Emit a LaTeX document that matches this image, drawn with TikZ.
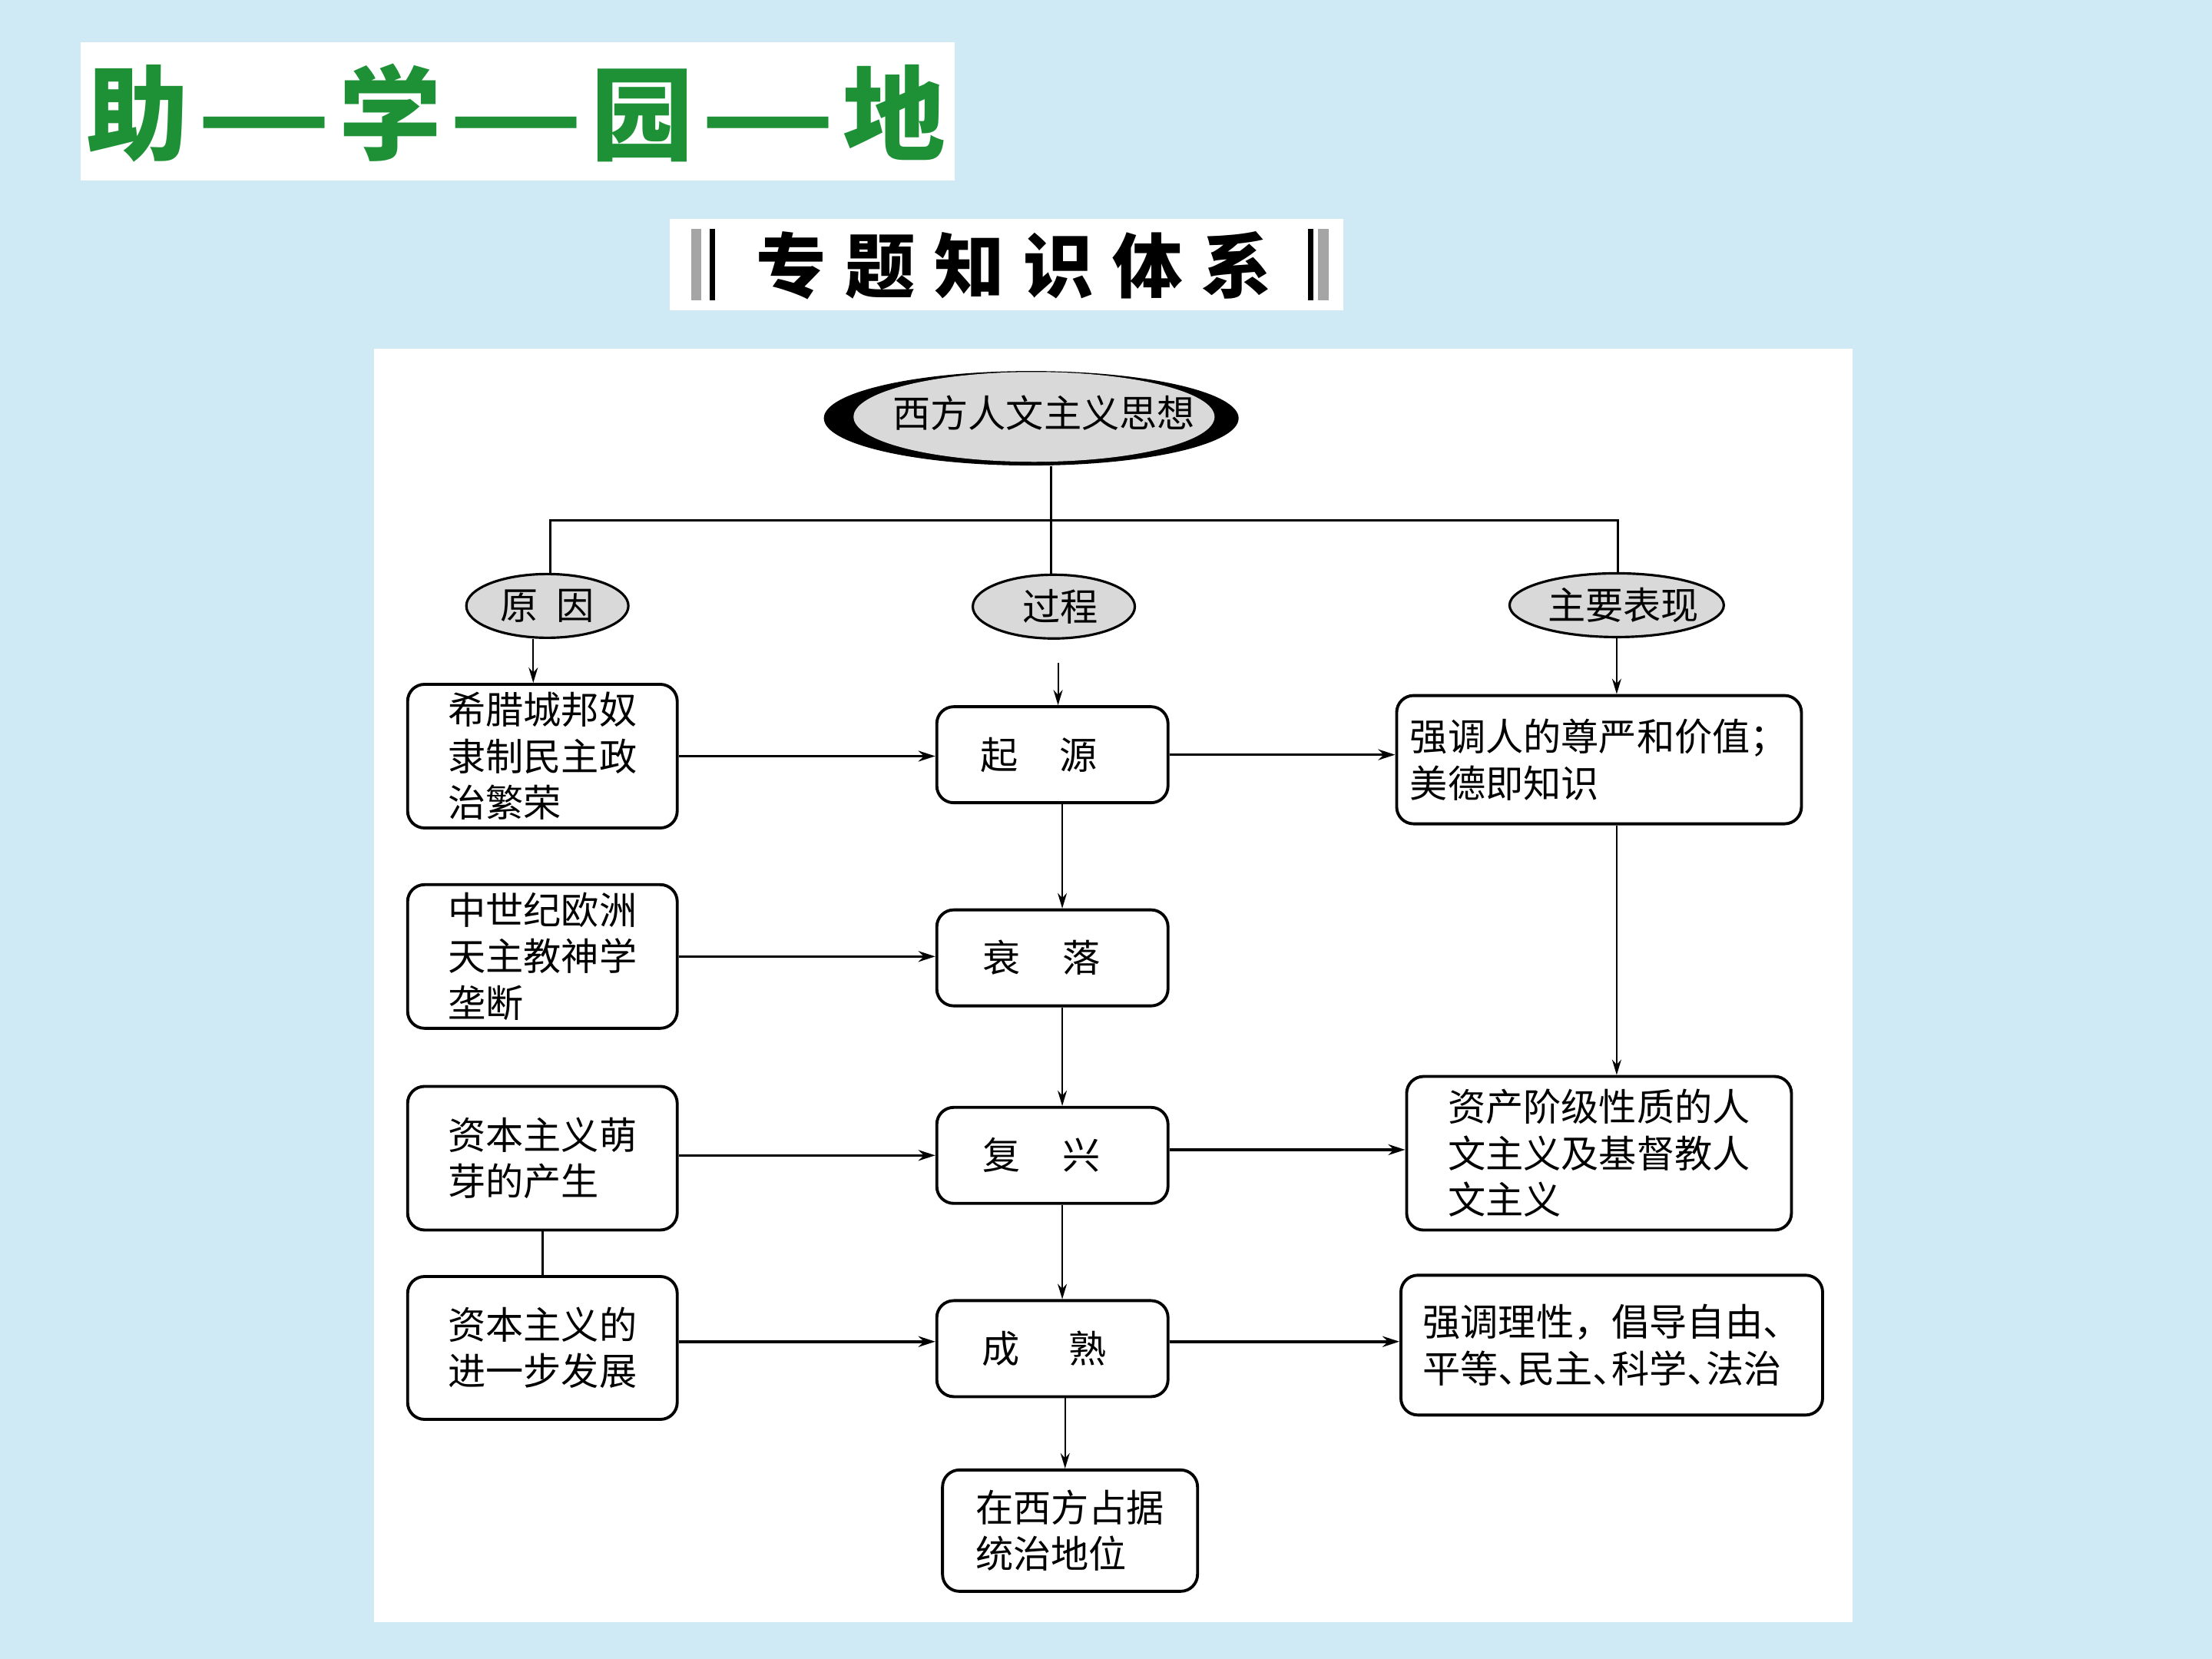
\documentclass[tikz,border=0pt]{standalone}
\usepackage{fontspec}
\newfontfamily\cjk{Noto Sans CJK SC}
\usetikzlibrary{shapes.geometric,arrows.meta,calc}
\definecolor{bgblue}{RGB}{208,234,245}
\definecolor{titlegreen}{RGB}{30,145,55}
\definecolor{ellgray}{RGB}{217,217,217}
\definecolor{bargray}{RGB}{165,165,165}
\begin{document}
\begin{tikzpicture}[x=0.18367mm,y=-0.18367mm,
  every node/.style={font=\cjk\fontsize{14}{17.2}\selectfont, inner sep=0pt},
  box/.style={draw, line width=1.1pt, rounded corners=2.2mm, align=left, fill=white},
  lbox/.style={box, minimum width=35.1mm, minimum height=18.7mm},
  midbox/.style={box, minimum width=30.1mm, minimum height=12.5mm},
  sell/.style={ellipse, draw, line width=0.9pt, fill=ellgray, minimum height=8.3mm},
  arr/.style={-{Stealth[length=2.2mm,width=1.4mm]}, line width=1pt},
  varr/.style={-{Stealth[length=2mm,width=1.2mm]}, line width=0.6pt},
  link/.style={line width=0.8pt}]
\fill[bgblue] (0,0) rectangle (1568,1176);
\useasboundingbox (0,0) rectangle (1568,1176);
\fill[white] (57,30) rectangle (677,128);
\fill[white] (475,155) rectangle (952,220);
\fill[white] (265,247) rectangle (1313,1150);

% title
\node[font=\cjk\bfseries\fontsize{38}{40}\selectfont, text=titlegreen] (title) at (366,80)
  {助\kern2.5pt\scalebox{1.45}[1]{—}\kern2.5pt学\kern2.5pt\scalebox{1.45}[1]{—}\kern2.5pt园\kern2.5pt\scalebox{1.45}[1]{—}\kern2.5pt地};
% subtitle
\fill[bargray] (490,162) rectangle (497,213);
\fill[black] (503,162) rectangle (507,213);
\fill[black] (927,162) rectangle (931,213);
\fill[bargray] (934,162) rectangle (942,213);
\node[font=\cjk\bfseries\fontsize{26}{28}\selectfont] (subtitle) at (719,188)
  {专\kern7pt题\kern7pt知\kern7pt识\kern7pt体\kern7pt系};

% top ellipse
\node[ellipse, fill=black, minimum width=54mm, minimum height=12.3mm] (top) at (731,296.5) {};
\node[ellipse, fill=ellgray, minimum width=47mm, minimum height=11.7mm] (topin) at (733,295.5) {};
\node (toptext) at (740,293) {西方人文主义思想};

% category ellipses
\node[sell, minimum width=21.1mm] (yy) at (388,429.5) {\makebox[0pt]{原\hspace{0.5em}因}};
\node[sell, minimum width=21.1mm] (gc) at (747,430) {\makebox[0pt]{\kern5pt过程}};
\node[sell, minimum width=27.9mm] (zy) at (1146,429) {\makebox[0pt]{\kern5pt主要表现}};

% left boxes
\node[lbox] (xl) at (384.5,536) {希腊城邦奴\\隶制民主政\\治繁荣};
\node[lbox] (zs) at (384.5,678) {中世纪欧洲\\天主教神学\\垄断};
\node[lbox] (my) at (384.5,821) {资本主义萌\\芽的产生};
\node[lbox, minimum height=18.6mm] (jy) at (384.5,955.5) {资本主义的\\进一步发展};

% middle boxes
\node[midbox] (qy) at (746,535) {起\hspace{1.1em}源\kern10pt};
\node[midbox] (sl) at (746,679) {衰\hspace{1.1em}落\kern8pt};
\node[midbox] (fx) at (746,819) {复\hspace{1.1em}兴\kern8pt};
\node[midbox] (cs) at (746,956) {成\hspace{1.3em}熟\kern6pt};
\node[box, minimum width=33.2mm, minimum height=15.8mm] (zx) at (758.5,1085) {在西方占据\\统治地位};

% right boxes
\node[box, minimum width=52.7mm, minimum height=16.7mm] (qd) at (1133.5,538.5) {强调人的尊严和价值；\\美德即知识};
\node[box, minimum width=50.1mm, minimum height=20mm] (zc) at (1133.5,817.5) {资产阶级性质的人\\文主义及基督教人\\文主义};
\node[box, minimum width=54.9mm, minimum height=18.2mm] (lx) at (1142.5,953.5) {强调理性，倡导自由、\\平等、\kern-.5em民主、\kern-.5em科学、\kern-.5em法治};

% tree
\coordinate (hub) at (745,369);
\coordinate (hl) at (390,369);
\coordinate (hr) at (1147,369);
\draw[link] (hub |- top.south) -- (hub);
\draw[link] (hl |- yy.north) -- (hl) -- (hr) -- (hr |- zy.north);
\draw[link] (hub |- gc.north) -- (hub);

% arrows from categories
\coordinate (a1) at ($(yy.south)+(-10,0)$);
\draw[varr] (a1) -- (a1 |- xl.north);
\coordinate (a2) at (750,470);
\draw[varr] (a2) -- (a2 |- qy.north);
\draw[varr] (zy.south) -- (zy.south |- qd.north);

% middle chain
\coordinate (mx) at ($(qy.south)+(7,0)$);
\draw[varr] (mx) -- (mx |- sl.north);
\draw[varr] (mx |- sl.south) -- (mx |- fx.north);
\draw[varr] (mx |- fx.south) -- (mx |- cs.north);
\coordinate (mx2) at ($(cs.south)+(9,0)$);
\draw[varr] (mx2) -- (mx2 |- zx.north);

% horizontal arrows
\draw[arr] (xl.east) -- (xl.east -| qy.west);
\draw[arr] (qy.east) -- (qy.east -| qd.west);
\draw[arr] (zs.east) -- (zs.east -| sl.west);
\draw[arr] (my.east |- fx.west) -- (fx.west);
\coordinate (r3) at ($(fx.east)+(0,-4)$);
\draw[arr] (r3) -- (r3 -| zc.west);
\coordinate (r4) at ($(cs.west)+(0,-5)$);
\draw[arr] (r4 -| jy.east) -- (r4);
\coordinate (r5) at ($(cs.east)+(0,-5)$);
\draw[arr] (r5) -- (r5 -| lx.west);

% other links
\draw[link] (my.south) -- (jy.north);
\draw[varr] (zy.south |- qd.south) -- (zy.south |- zc.north);
\end{tikzpicture}
\end{document}
